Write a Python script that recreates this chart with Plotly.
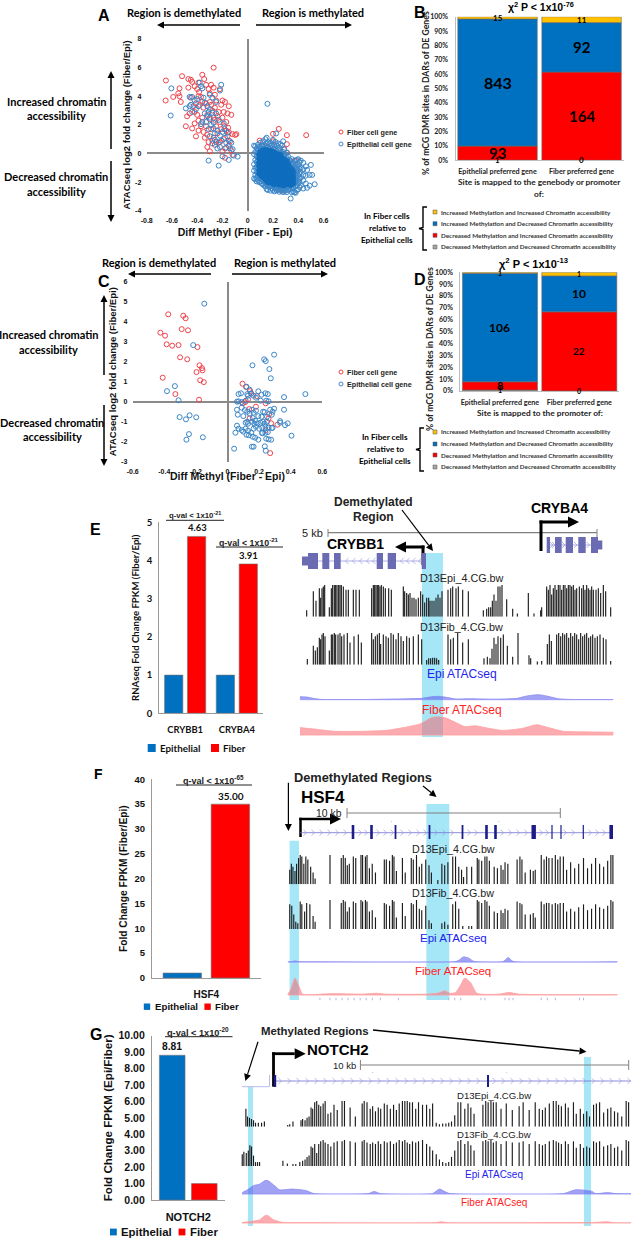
import plotly.graph_objects as go

W, H = 631, 1239
BLUE, RED, YEL, GRY = "#0070C0", "#FF0000", "#FFC000", "#A5A5A5"
SANS, CAL = "Liberation Sans", "Lato"

# ---------- panel A ----------
a_fiber = [(-.648,5.1),(-.52,5.4),(-.27,6.0),(-.36,5.5),(-.345,5.2),(-.47,5.2),(-.45,5.15),(-.44,5.0),(-.39,4.95),(-.54,4.55),(-.55,4.2),(-.59,3.95),(-.54,4.0),(-.53,3.6),(-.65,3.7),(-.49,1.9),(-.44,1.75),(-.41,1.2),(-.47,4.6),(-.42,4.7),(-.40,4.5),(-.385,4.3),(-.39,4.0),(-.37,3.95),(-.33,4.8),(-.29,4.8),(-.31,4.5),(-.27,4.6),(-.22,4.5),(-.30,4.2),(-.26,4.1),(-.36,3.6),(-.41,3.5),(-.38,3.4),(-.43,3.3),(-.45,3.9),(-.46,2.8),(-.48,2.6),(-.42,2.9),(-.40,2.7),(-.35,3.2),(-.33,3.5),(-.30,3.6),(-.25,3.7),(-.20,3.7),(-.18,3.6),(-.21,3.4),(-.26,3.2),(-.15,3.3),(-.28,3.0),(-.32,2.7),(-.36,2.5),(-.39,2.3),(-.42,2.1),(-.37,1.9),(-.35,1.5),(-.39,1.6),(-.30,2.4),(-.27,2.5),(-.24,2.6),(-.19,2.9),(-.16,2.8),(-.17,2.2),(-.13,2.7),(-.22,2.2),(-.25,1.9),(-.29,1.7),(-.32,1.3),(-.34,1.1),(-.31,.8),(-.30,.15),(-.32,.45),(-.27,1.1),(-.24,1.4),(-.21,1.7),(-.185,1.9),(-.17,1.6),(-.155,1.8),(-.12,1.35),(-.10,1.3),(-.09,1.35),(-.16,1.2),(-.19,1.0),(-.23,.75),(-.26,.6),(-.14,.85),(-.18,.35),(-.13,.2),(-.15,.55),(-.20,.15),(-.18,-.3),(-.12,-.1),(-.22,.8),(-.28,.9),(-.33,1.9),(-.23,2.9),(-.20,2.5),(-.26,2.35),(-.15,1.5),(-.29,3.4),
           (.246,1.72),(.31,1.28),(.463,1.28),(.2,1.37),(.095,.9),(.2,.85),(.31,.65),(.285,.3),(.15,.5),(.31,.05),(.2,.3),(.39,-1.16),(.245,-2.5),(.27,-2.6),(.38,-.5)]
a_epi_left = [(-.605,4.55),(-.61,2.65),(-.44,3.95),(-.46,3.95),(-.49,3.15),(-.46,3.3),(-.45,3.4),(-.42,3.7),(-.40,3.8),(-.44,2.9),(-.41,3.1),(-.38,4.95),(-.37,4.7),(-.36,4.55),(-.21,4.8),(-.22,4.4),(-.30,4.1),(-.28,3.9),(-.32,3.3),(-.30,3.1),(-.31,2.9),(-.34,2.8),(-.32,2.6),(-.30,2.5),(-.36,2.2),(-.37,2.05),(-.33,2.2),(-.29,2.0),(-.31,1.7),(-.27,1.75),(-.26,1.4),(-.24,1.6),(-.22,1.25),(-.20,1.5),(-.185,1.7),(-.16,1.45),(-.18,1.1),(-.15,.9),(-.17,.75),(-.21,.9),(-.25,.8),(-.28,.7),(-.24,.35),(-.22,.45),(-.17,.4),(-.14,.35),(-.12,.3),(-.20,-.2),(-.23,-.85),(-.31,-.5),(-.15,-.45),(-.11,-.15),(-.08,-.22),(-.25,2.8),(-.23,2.35),(-.19,2.1),(-.27,2.15),(-.34,3.55),(-.25,3.6),(-.39,3.3),(-.28,2.85),(-.13,.75),(-.35,3.9),(-.30,1.2),(-.26,.95),
              (.156,3.47),(.225,1.4),(.15,1.1),(.28,.85)]
a_epi_blob = {
 .05:[.55,-.05,-.75,-1.75,-1.2], .06:[.5,.1,-.45,-1.0,-1.5,-1.8], .07:[.35,-.2,-.6,-.95,-1.3,-1.7,-1.95],
 .08:[.6,.25,.02,-.3,-.55,-.8,-1.05,-1.35,-1.6,-1.85], .09:[.45,.2,-.1,-.35,-.62,-.9,-1.15,-1.42,-1.7,-2.0],
 .10:[.75,.4,.12,-.08,-.28,-.5,-.72,-.95,-1.2,-1.45,-1.68,-1.95], .11:[.55,.3,.05,-.18,-.42,-.65,-.88,-1.1,-1.33,-1.57,-1.82,-2.1],
 .12:[.85,.5,.22,0,-.22,-.45,-.68,-.9,-1.15,-1.38,-1.62,-1.85,-2.15], .13:[.6,.35,.12,-.1,-.32,-.55,-.78,-1.0,-1.22,-1.45,-1.7,-1.95,-2.25],
 .14:[1.0,.5,.25,.02,-.2,-.42,-.65,-.88,-1.1,-1.32,-1.55,-1.8,-2.05,-2.3], .15:[.7,.38,.15,-.08,-.3,-.52,-.75,-.98,-1.2,-1.42,-1.65,-1.9,-2.15,-2.5],
 .16:[.8,.45,.2,-.02,-.24,-.46,-.68,-.9,-1.12,-1.35,-1.58,-1.8,-2.02,-2.28,-2.55], .17:[.65,.32,.1,-.12,-.34,-.56,-.78,-1.0,-1.22,-1.44,-1.66,-1.88,-2.1,-2.35],
 .18:[.75,.4,.18,-.05,-.27,-.49,-.71,-.93,-1.15,-1.37,-1.59,-1.81,-2.03,-2.27,-2.6], .19:[.55,.25,.02,-.2,-.42,-.64,-.86,-1.08,-1.3,-1.52,-1.74,-1.96,-2.18,-2.42],
 .20:[.95,.42,.12,-.1,-.32,-.54,-.76,-.98,-1.2,-1.42,-1.64,-1.86,-2.08,-2.3,-2.55], .21:[.6,.28,.05,-.18,-.4,-.62,-.84,-1.06,-1.28,-1.5,-1.72,-1.94,-2.16,-2.38,-2.65],
 .22:[.8,.35,0,-.25,-.47,-.69,-.91,-1.13,-1.35,-1.57,-1.79,-2.01,-2.23,-2.45], .23:[.55,.15,-.12,-.34,-.56,-.78,-1.0,-1.22,-1.44,-1.66,-1.88,-2.1,-2.32,-2.58],
 .24:[.7,.25,-.05,-.28,-.5,-.72,-.94,-1.16,-1.38,-1.6,-1.82,-2.04,-2.26,-2.5], .25:[.4,.05,-.2,-.42,-.64,-.86,-1.08,-1.3,-1.52,-1.74,-1.96,-2.18,-2.4,-2.68],
 .26:[.65,.2,-.1,-.35,-.58,-.8,-1.02,-1.24,-1.46,-1.68,-1.9,-2.12,-2.34,-2.6], .27:[.55,-.02,-.3,-.52,-.74,-.96,-1.18,-1.4,-1.62,-1.84,-2.06,-2.28,-2.5],
 .28:[.1,-.25,-.48,-.7,-.92,-1.14,-1.36,-1.58,-1.8,-2.02,-2.24,-2.46,-2.7], .29:[.3,-.15,-.42,-.65,-.88,-1.1,-1.32,-1.54,-1.76,-1.98,-2.2,-2.42,-2.62],
 .30:[-.05,-.38,-.6,-.84,-1.06,-1.28,-1.5,-1.72,-1.94,-2.16,-2.38,-2.6], .31:[.05,-.3,-.55,-.8,-1.02,-1.24,-1.46,-1.68,-1.9,-2.12,-2.34,-2.7],
 .32:[-.2,-.5,-.75,-.98,-1.22,-1.44,-1.66,-1.88,-2.1,-2.32,-2.55], .33:[-.45,-.72,-.96,-1.2,-1.42,-1.64,-1.86,-2.08,-2.3,-2.52],
 .34:[-.55,-.95,-1.2,-1.45,-1.7,-1.95,-2.2,-2.45,-3.15], .35:[-.4,-.8,-1.1,-1.38,-1.62,-1.9,-2.15,-2.4,-2.72],
 .36:[-.65,-1.0,-1.3,-1.6,-1.85,-2.1,-2.35,-2.65], .37:[-.5,-.9,-1.25,-1.55,-1.82,-2.08,-2.72], .38:[-.75,-1.05,-1.4,-1.7,-1.95,-2.3,-2.75],
 .39:[-.45,-.95,-1.3,-1.6,-1.9,-2.2,-2.55], .40:[-.4,-.85,-1.2,-1.55,-1.85,-2.1,-2.5], .41:[-.6,-1.05,-1.4,-1.75,-2.0,-2.35],
 .42:[-.5,-1.0,-1.3,-1.7,-2.25], .44:[-.65,-1.1,-1.5,-1.9,-2.45], .46:[-.9,-1.55,-2.1], .47:[-1.15,-2.4], .49:[-1.5,-2.25], .50:[-.8], .51:[-1.5], .53:[-2.15]}
# ---------- panel C ----------
c_fiber = [(-.375,4.37),(-.28,4.3),(-.265,4.17),(-.29,3.63),(-.25,3.57),(-.425,3.45),(-.395,3.3),(-.385,2.87),(-.35,2.8),(-.31,2.83),(-.19,2.73),(-.3,2.22),(-.255,2.12),(-.177,1.82),(-.162,1.68),(-.158,1.57),(-.196,1.48),(-.41,1.2),(-.173,1.07),(-.15,.98),(-.33,.38),(-.18,.1),
           (.095,.9),(.118,.73),(.143,.53),(.15,.42),(.186,.28),(.13,.12),(.112,-.02),(.097,-.08),(.242,-.08),(.18,-.25),(.137,-.37),(.263,-.62),(.26,-.83),(.276,-1.08),(.316,-1.15),(.242,-1.42),(.27,-2.57),(.14,-.83)]
c_epi = [(-.147,4.9),(-.217,2.83),(-.333,.78),(-.383,.53),(-.31,.07),(-.303,-.77),(-.24,-.68),(-.263,-.88),(-.198,-.78),(-.244,-1.62),(-.26,-1.9),(-.156,-1.78),
         (.295,2.35),(.232,2.12),(.242,2.03),(.158,1.82),(.265,1.63),(.274,1.17),(.493,.38),(.358,.23),(.358,-.4),(.333,-.97),(.333,-1.05),(.381,-1.08),(.364,-1.17),(.405,-1.7),(.042,-2.35),(.154,-2.25),(.165,-2.25),(.236,-2.23),(.242,-2.45),(.245,-1.85),(.26,-1.88),(.276,-1.9),
         (.12,.75),(.14,.6),(.07,.38),(.085,.42),(.125,.38),(.15,.4),(.165,.3),(.195,.52),(.215,.35),(.24,.42),(.255,.38),(.13,.3),(.18,.2),(.21,.05),(.245,.05),(.26,.02),(.06,0),(.07,.02),(.115,.05),(.09,-.02),(.06,-.4),(.065,-.65),(.09,-.3),(.11,-.42),(.125,-.5),(.14,-.6),(.155,-.4),(.165,-.55),(.18,-.45),(.195,-.72),(.225,-.5),(.235,-.52),(.25,-.75),(.27,-.4),(.285,-.5),(.295,-.35),(.1,-.72),(.16,-.82),(.175,-.95),(.215,-.75),(.28,-.65),(.115,-1.05),(.125,-1.0),(.13,-1.1),(.155,-1.0),(.17,-1.1),(.19,-1.08),(.21,-1.05),(.225,-1.0),(.235,-1.1),(.25,-1.0),(.06,-1.2),(.07,-1.35),(.09,-1.42),(.1,-1.5),(.115,-1.35),(.13,-1.45),(.15,-1.55),(.165,-1.35),(.18,-1.25),(.2,-1.35),(.22,-1.3),(.24,-1.25),(.26,-1.3),(.285,-1.3),(.05,-1.55),(.12,-1.65),(.135,-1.68),(.16,-1.75),(.175,-1.8),(.195,-1.9),(.22,-1.58),(.24,-1.55),(.255,-1.52),(.22,-1.55),(.28,-1.32)]
# ---------- stacked bars B and D (4 classes, bottom to top) ----------
stack_classes = ["Decreased Methylation and Decreased Chromatin accessibility","Decreased Methylation and Increased Chromatin accessibility","Increased Methylation and Decreased Chromatin accessibility","Increased Methylation and Increased Chromatin accessibility"]
stack_colors = [GRY, RED, BLUE, YEL]
pref_genes = ["Epithelial preferred gene", "Fiber preferred gene"]
b_counts = [[1, 0], [93, 164], [843, 92], [15, 11]]
d_counts = [[1, 0], [8, 22], [106, 10], [1, 1]]
pct_ticks = list(range(0, 101, 10))
# ---------- group bars ----------
e_genes = ["CRYBB1", "CRYBA4"]; e_epi = [1, 1]; e_fib = [4.63, 3.91]
f_genes = ["HSF4"]; f_epi = [1]; f_fib = [35.00]
g_genes = ["NOTCH2"]; g_epi = [8.81]; g_fib = [1]
# ---------- methylation tracks: (position, fraction) ----------
e_me_epi = [(50,.2),(70,.8),(78,.5),(88,.9),(92,.6),(96,.9),(100,.95),(104,1),(118,.3),(124,.9),(128,1),(133,1),(137,1),(141,1),(146,1),(150,1),(154,1),(160,.95),(168,.85),(175,.85),(190,.85),(198,.85),(208,.85),(245,.9),(250,1),(254,1),(258,1),(262,1),(266,1),(270,.95),(274,1),(280,.95),(286,.9),(296,.9),(304,.85),(340,.95),(344,.8),(350,.75),(355,.7),(360,.75),(366,.6),(372,.6),(378,.55),(385,.6),(392,.8),(398,.7),(404,.45),(410,.6),(416,.6),(420,.5),(426,.5),(432,.5),(438,.6),(444,.7),(450,.6),(456,.8),(474,.85),(482,.9),(488,.95),(498,.9),(505,.95),(518,.85),(535,.8),(580,.2),(590,.25),(596,.3),(602,.3),(607,.5),(612,.7),(618,.5),(624,.95),(630,.95),(636,1),(650,.55),(668,.25),(682,.1),(715,.75),(732,.1),(752,.2),(755,.3),(770,.95),(775,.85),(780,1),(785,.7),(790,.9),(795,1),(800,.85),(805,1),(810,1),(815,.85),(820,1),(825,1),(830,.9),(835,1),(840,1),(845,.95),(850,1),(855,.85),(860,.9),(868,.95),(875,.9),(880,1),(885,.85),(890,1),(895,.9),(900,.85),(905,.95),(910,.85),(918,.85),(925,.9),(932,.75),(940,1),(947,.8),(962,.3)]
e_me_fib = [(52,.18),(70,.6),(76,.45),(82,.55),(88,.85),(92,.8),(96,.95),(100,1),(105,.9),(118,.45),(124,.95),(128,.95),(133,1),(137,.95),(144,.95),(150,1),(155,.9),(162,.95),(172,1),(180,.7),(192,.9),(205,.95),(214,.7),(245,1),(250,.8),(256,.9),(262,.95),(268,1),(272,.65),(280,.95),(288,.9),(295,.85),(303,1),(310,.95),(318,.8),(325,1),(333,.9),(340,.75),(350,.9),(358,.85),(370,.9),(385,.95),(395,.8),(410,.15),(416,.2),(422,.2),(428,.22),(434,.22),(440,.2),(446,.15),(474,.95),(482,.8),(490,.85),(503,1),(518,.7),(535,.8),(582,.2),(592,.25),(600,.2),(606,.5),(612,.85),(618,.65),(624,.9),(632,.85),(640,.95),(652,.6),(668,.25),(684,1),(717,.3),(722,.2),(742,.1),(755,.12),(772,.65),(778,.95),(784,.75),(800,.95),(806,1),(812,.9),(818,1),(824,.95),(830,1),(836,.85),(842,1),(848,.9),(854,1),(860,.95),(866,.8),(872,1),(878,.9),(884,.95),(890,1),(896,.85),(902,.9),(908,.95),(915,.85),(922,.9),(930,.95),(940,.85),(948,.8),(962,.12)]
f_me_epi = [(720,.5),(724,.7),(728,.6),(733,.45),(737,.7),(742,.9),(746,1),(750,.95),(755,.7),(760,.95),(765,.85),(772,.6),(778,.4),(783,.2),(820,1),(848,.9),(853,1),(858,.9),(863,.65),(868,.7),(878,.95),(884,.9),(897,1),(901,1),(908,.95),(912,1),(918,.55),(925,.7),(933,.4),(955,.85),(960,.85),(968,.8),(975,1),(979,.95),(985,.45),(1000,.9),(1007,.4),(1022,.9),(1027,.85),(1035,1),(1042,.6),(1048,.7),(1058,.85),(1066,.65),(1072,.4),(1088,.15),(1098,.7),(1105,.65),(1113,.75),(1125,.95),(1132,.95),(1140,.6),(1147,.5),(1152,.25),(1160,.6),(1172,.6),(1186,.9),(1190,.85),(1197,.8),(1205,.95),(1210,.95),(1216,.8),(1228,.6),(1236,.55),(1245,.65),(1250,.5),(1255,.75),(1262,.7),(1285,.85),(1292,.95),(1297,.85),(1305,.4),(1318,.5),(1325,.45),(1330,.5),(1345,1),(1352,.85),(1358,.95),(1364,.9),(1372,.9),(1380,1),(1386,.85),(1392,.95),(1400,.95),(1408,.5),(1418,.75),(1428,.55),(1438,.7),(1450,.9),(1460,.55),(1470,.7),(1480,.9),(1490,.7),(1500,.6),(1510,.8),(1518,1),(1523,1)]
f_me_fib = [(720,.85),(725,.8),(730,.5),(735,.25),(740,.2),(746,.95),(750,.85),(757,.6),(762,.9),(770,.85),(778,.45),(783,.25),(820,1),(848,.9),(853,1),(858,.95),(863,.6),(868,.75),(878,.95),(884,.9),(897,1),(901,.95),(908,1),(912,.95),(918,.6),(925,.65),(933,.4),(955,.9),(960,.85),(968,.8),(975,1),(979,.95),(985,.4),(1000,.9),(1007,.45),(1022,.9),(1027,.85),(1035,1),(1042,.7),(1048,.65),(1058,.8),(1066,.3),(1072,.2),(1098,.2),(1105,.25),(1113,.15),(1125,.85),(1132,.95),(1140,.7),(1150,.1),(1165,.1),(1172,.1),(1186,1),(1190,.95),(1197,.9),(1205,1),(1210,.95),(1216,.8),(1228,.6),(1236,.55),(1245,.65),(1250,.55),(1255,.7),(1262,.65),(1285,.95),(1292,.9),(1297,.85),(1305,.5),(1318,.5),(1325,.55),(1330,.4),(1345,.95),(1352,.85),(1358,.9),(1364,.9),(1372,.85),(1380,.9),(1386,.85),(1392,.9),(1400,.9),(1408,.6),(1418,.7),(1428,.6),(1438,.75),(1450,.85),(1460,.65),(1470,.7),(1480,.85),(1490,.75),(1500,.7),(1510,.8),(1518,1),(1523,.95)]
g_me_epi = [(611,.7),(615,.4),(620,.35),(625,.3),(630,.25),(635,.15),(642,.15),(650,.15),(657,.2),(715,.07),(720,.1),(728,.2),(748,.25),(752,.3),(758,.25),(763,.35),(768,.4),(773,.75),(777,.7),(782,.95),(787,1),(792,.85),(797,.8),(803,.9),(808,1),(815,.5),(822,.55),(830,.85),(838,.65),(850,1),(856,1),(870,.75),(883,.4),(900,.9),(905,1),(912,.95),(920,.7),(926,.8),(933,.6),(940,.75),(946,.7),(955,.9),(962,.85),(970,.7),(978,.85),(985,.65),(992,.9),(1000,1),(1006,1),(1012,1),(1018,.95),(1025,.95),(1033,.7),(1040,.95),(1050,.85),(1060,.85),(1068,.7),(1075,.9),(1084,.15),(1092,.1),(1100,.12),(1108,.12),(1115,.15),(1122,.2),(1130,.45),(1138,.95),(1145,.95),(1155,.7),(1163,.9),(1170,.75),(1178,.5),(1200,.85),(1207,1),(1213,.95),(1220,1),(1226,.95),(1233,.95),(1245,.7),(1258,.9),(1273,.65),(1290,.8),(1300,.95),(1315,.65),(1330,.95),(1340,.7),(1348,.65),(1355,.75),(1365,.9),(1375,1),(1382,1),(1388,.85),(1395,.8),(1405,.9),(1412,.75),(1425,.95),(1432,.5),(1442,.7),(1450,.5),(1458,.6),(1465,.4),(1475,.85),(1482,.9),(1490,.95),(1500,.55),(1510,.7),(1518,.75),(1527,.6),(1535,.55),(1545,.4),(1556,1),(1562,.95)]
g_me_fib = [(602,.45),(606,.55),(612,.5),(617,.6),(621,.8),(625,.75),(630,.4),(635,.15),(640,.15),(645,.15),(703,.2),(714,.1),(728,.08),(735,.08),(745,.15),(752,.2),(758,.25),(763,.35),(768,.4),(773,.75),(777,.7),(782,.85),(787,.5),(792,.85),(797,.95),(803,1),(808,.9),(815,.85),(822,.75),(830,.9),(838,.95),(850,.95),(856,1),(870,.95),(883,.9),(900,.95),(905,1),(912,.9),(920,.85),(926,.9),(933,.85),(940,.95),(946,.85),(955,.95),(962,.9),(970,.95),(978,.85),(985,.9),(992,1),(1000,.95),(1006,1),(1012,.9),(1018,.85),(1025,.95),(1033,.9),(1040,.95),(1050,1),(1060,.85),(1068,.75),(1075,.6),(1084,.45),(1092,.25),(1100,.15),(1108,.12),(1115,.15),(1122,.35),(1130,.6),(1138,.95),(1145,1),(1155,.85),(1163,.95),(1170,.8),(1178,.6),(1200,.95),(1207,1),(1213,.95),(1220,1),(1226,.9),(1233,.95),(1245,.85),(1258,.95),(1273,.9),(1290,.9),(1300,.95),(1315,.85),(1330,.95),(1340,.85),(1348,.8),(1355,.85),(1365,.95),(1375,1),(1382,.95),(1388,.9),(1395,.85),(1405,.95),(1412,.85),(1425,.95),(1432,.7),(1442,.85),(1450,.7),(1458,.75),(1465,.7),(1475,.95),(1482,.9),(1490,.95),(1500,.75),(1510,.8),(1518,.85),(1527,.7),(1535,.75),(1545,.6),(1556,1),(1562,.95)]
f_below = [(795,1),(820,1),(835,1),(850,1),(865,1),(880,1),(895,1),(910,1),(925,1),(945,1),(990,1),(1115,1),(1130,1),(1145,1),(1195,1),(1205,1),(1255,1),(1265,1),(1275,1),(1345,1),(1360,1),(1380,1),(1440,1),(1450,1)]
# ---------- ATAC tracks: (position, relative signal) ----------
e_at_epi = [(30,.45),(50,.4),(70,.2),(90,.05),(120,.02),(210,.02),(310,.1),(360,.15),(395,.2),(425,.45),(445,.5),(470,.35),(495,.12),(535,.15),(570,.12),(620,.08),(680,.2),(710,.55),(745,.75),(770,.55),(805,.15),(845,.03),(970,.02)]
e_at_fib = [(30,.4),(85,.3),(135,.2),(220,.2),(290,.25),(340,.4),(390,.6),(425,.95),(445,1),(470,.9),(500,.65),(525,.45),(555,.5),(585,.4),(635,.25),(695,.35),(740,.55),(775,.4),(820,.2),(880,.17),(970,.15)]
f_at_epi = [(715,.02),(725,.05),(733,.2),(742,.05),(780,.02),(1130,.03),(1142,.4),(1152,1),(1165,.7),(1178,.1),(1250,.05),(1263,.8),(1275,.1),(1535,.02)]
f_at_fib = [(715,.05),(722,.3),(733,1),(745,.4),(752,.05),(820,.08),(840,.08),(900,.05),(935,.1),(960,.05),(1060,.05),(1090,.12),(1105,.25),(1118,.1),(1132,.15),(1145,.6),(1155,1),(1170,.7),(1185,.1),(1240,.05),(1265,.15),(1290,.05),(1535,.02)]
g_at_epi = [(602,.1),(615,.3),(630,.6),(645,.7),(662,1),(680,.65),(695,.3),(725,.35),(760,.25),(780,.03),(915,.03),(930,.18),(945,.03),(1075,.03),(1092,.35),(1115,.05),(1400,.03),(1430,.3),(1470,.2),(1480,.03),(1510,.1),(1530,.03),(1568,.02)]
g_at_fib = [(602,.05),(630,.25),(645,.4),(662,1),(680,.4),(700,.1),(780,.04),(1080,.04),(1095,.15),(1115,.04),(1415,.05),(1470,.05),(1510,.15),(1525,.03),(1568,.02)]


def px(x): return x / W
def py(y): return 1 - y / H
def dx(a, b): return [a / W, b / W]
def dy(top, bot): return [1 - bot / H, 1 - top / H]
def xs(p): return [q[0] for q in p]
def ys(p): return [q[1] for q in p]

fig = go.Figure()
ann, shp = [], []

def T(x, y, s, size=10, color="#000", fam=CAL, bold=True, anchor="center", angle=0):
    ann.append(dict(x=px(x), y=py(y), xref="paper", yref="paper", text=f"<b>{s}</b>" if bold else s,
                    showarrow=False, xanchor=anchor, yanchor="middle", textangle=angle,
                    font=dict(size=size, color=color, family=fam)))

def line(x0, y0, x1, y1, w=1, color="#808080", layer="above"):
    shp.append(dict(type="line", xref="paper", yref="paper", x0=px(x0), x1=px(x1), y0=py(y0), y1=py(y1),
                    line=dict(width=w, color=color), layer=layer))

def rect(x0, y0, x1, y1, color, layer="above", border=None):
    shp.append(dict(type="rect", xref="paper", yref="paper", x0=px(x0), x1=px(x1), y0=py(y0), y1=py(y1),
                    fillcolor=color, line=dict(width=0.5 if border else 0, color=border or color), layer=layer))

def path(d, color, w=1, layer="above"):
    shp.append(dict(type="path", xref="paper", yref="paper", path=d, line=dict(width=w, color=color), layer=layer))

def M(pts):
    return "M" + "L".join(f"{px(a):.5f},{py(b):.5f}" for a, b in pts)

def arrow(x0, y0, x1, y1, w=1.5, head=7.0, color="#000"):
    L = ((x1 - x0) ** 2 + (y1 - y0) ** 2) ** .5
    ux, uy = (x1 - x0) / L, (y1 - y0) / L
    bx, by = x1 - ux * head, y1 - uy * head
    hw = head * 0.5
    line(x0, y0, bx, by, w, color)
    shp.append(dict(type="path", xref="paper", yref="paper", line=dict(width=0), fillcolor=color,
                    path=M([(x1, y1), (bx - uy * hw, by + ux * hw), (bx + uy * hw, by - ux * hw)]) + "Z"))

def bent(x0, y0, yb, x1, w=3):
    d = 1 if x1 > x0 else -1
    line(x0, y0, x0, yb - w / 2, w, "#000")
    arrow(x0 - d * w / 2, yb, x1, yb, w=w, head=11, color="#000")

def chevrons(positions, y, direction, color="#9a9ae0", h=3):
    for p in positions:
        path(M([(p - direction * 1.5, y - h), (p + direction * 1.5, y), (p - direction * 1.5, y + h)]), color, 0.7)

# ---- scatter panels -------------------------------------------------------
def scatter(p, name, color, xa, ya, size=5, w=1):
    fig.add_trace(go.Scatter(x=xs(p), y=ys(p), mode="markers", name=name, xaxis=xa, yaxis=ya, showlegend=False,
                             marker=dict(symbol="circle-open", size=size, color=color, line=dict(width=w))))

a_blob = [(x, y) for x, col in a_epi_blob.items() for y in col]
a_core = [(x, y) for x, col in a_epi_blob.items() if .09 <= x <= .36 for y in col[2:-2]]
scatter(a_fiber, "Fiber cell gene", "#F0444C", "x", "y")
scatter(a_epi_left + a_blob, "Epithelial cell gene", "#3A86C8", "x", "y")
scatter(a_core, "Epithelial cell gene", "#0F6DBE", "x", "y", size=4, w=1.6)
scatter(c_fiber, "Fiber cell gene", "#F0444C", "x3", "y3")
scatter(c_epi, "Epithelial cell gene", "#3A86C8", "x3", "y3")

def stack(counts, xa, ya, sizes):
    tot = [sum(c[i] for c in counts) for i in range(2)]
    base = [0, 0]
    for k, c in enumerate(counts):
        v = [100 * c[i] / tot[i] for i in range(2)]
        fig.add_trace(go.Bar(x=pref_genes, y=v, base=base, name=stack_classes[k], xaxis=xa, yaxis=ya, showlegend=False,
                             width=0.945, offset=-0.4725, marker=dict(color=stack_colors[k], line=dict(width=0.6, color="#6a6a6a"))))
        for i in range(2):
            ann.append(dict(x=pref_genes[i], y=base[i] + v[i] / 2, xref=xa, yref=ya, text=f"<b>{c[i]}</b>", showarrow=False,
                            font=dict(family=CAL, size=sizes[k][i], color="#000")))
        base = [base[i] + v[i] for i in range(2)]

stack(b_counts, "x2", "y2", [[8, 8], [15, 15], [16, 15], [8, 8]])
stack(d_counts, "x4", "y4", [[7, 7], [11, 10], [12, 12], [7, 7]])

def group(genes, epi, fib, xa, ya):
    fig.add_trace(go.Bar(x=genes, y=epi, name="Epithelial", xaxis=xa, yaxis=ya, showlegend=False, marker=dict(color=BLUE, line=dict(width=.6, color="#777"))))
    fig.add_trace(go.Bar(x=genes, y=fib, name="Fiber", xaxis=xa, yaxis=ya, showlegend=False, marker=dict(color=RED, line=dict(width=.6, color="#777"))))

group(e_genes, e_epi, e_fib, "x5", "y5")
group(f_genes, f_epi, f_fib, "x6", "y6")
group(g_genes, g_epi, g_fib, "x7", "y7")

def meth(p, xa, ya, name, w=1.15, color="#1c1c1c"):
    x, y = [], []
    for a, b in p:
        x += [a, a, None]; y += [0, b, None]
    fig.add_trace(go.Scatter(x=x, y=y, name=name, xaxis=xa, yaxis=ya, mode="lines", showlegend=False,
                             connectgaps=False, line=dict(width=w, color=color)))

def atac(p, xa, ya, name, lc, fc):
    fig.add_trace(go.Scatter(x=xs(p), y=ys(p), name=name, xaxis=xa, yaxis=ya, mode="lines", fill="tozeroy", showlegend=False,
                             fillcolor=fc, line=dict(width=0.8, color=lc, shape="spline", smoothing=0.6)))

BL, BF, RL, RF = "#8a8af0", "rgba(70,70,235,.5)", "#ffa0a0", "rgba(250,90,100,.5)"
meth(e_me_epi, "x8", "y8", "D13Epi_4.CG.bw"); meth(e_me_fib, "x8", "y9", "D13Fib_4.CG.bw")
atac(e_at_epi, "x8", "y10", "Epi ATACseq", BL, BF); atac(e_at_fib, "x8", "y11", "Fiber ATACseq", RL, RF)
meth(f_me_epi, "x9", "y12", "D13Epi_4.CG.bw"); meth(f_me_fib, "x9", "y13", "D13Fib_4.CG.bw")
atac(f_at_epi, "x9", "y14", "Epi ATACseq", BL, BF); atac(f_at_fib, "x9", "y15", "Fiber ATACseq", RL, RF)
meth(f_below, "x9", "y20", "Gene annotation", 1, "#b5b5e8")
meth(g_me_epi, "x9", "y16", "D13Epi_4.CG.bw"); meth(g_me_fib, "x9", "y17", "D13Fib_4.CG.bw")
atac(g_at_epi, "x9", "y18", "Epi ATACseq", BL, BF); atac(g_at_fib, "x9", "y19", "Fiber ATACseq", RL, RF)

# ---- axes -----------------------------------------------------------------
TF = dict(family=SANS, size=7, color="#111", weight="bold")
def quad_axes(n, xd, yd, xr, yr, xt, yt, xtitle, ytitle, xst, yst):
    s = "" if n == 1 else str(n)
    fmt = lambda v: [str(a) for a in v]
    xa = dict(domain=xd, range=xr, tickmode="array", tickvals=xt, ticktext=fmt(xt), showgrid=False, zeroline=True, zerolinecolor="#8a8a8a", zerolinewidth=1.6,
              showline=False, ticks="outside", ticklen=3, tickcolor="rgba(0,0,0,0)", tickfont=TF, anchor="y" + s)
    if xtitle:
        xa["title"] = dict(text=f"<b>{xtitle}</b>", font=dict(family=SANS, size=10.5, color="#111"), standoff=xst)
    ya = dict(domain=yd, range=yr, tickmode="array", tickvals=yt, ticktext=fmt(yt), showgrid=False, zeroline=True, zerolinecolor="#8a8a8a", zerolinewidth=1.6,
              showline=False, ticks="outside", ticklen=3, tickcolor="rgba(0,0,0,0)", tickfont=TF, anchor="x" + s,
              title=dict(text=f"<b>{ytitle}</b>", font=dict(family=SANS, size=9.5, color="#111"), standoff=yst))
    return {"xaxis" + s: xa, "yaxis" + s: ya}

layout = {}
layout.update(quad_axes(1, dx(146.7, 323.5), dy(39, 210.7), [-.8, .6], [-4, 8], [-.8, -.6, -.4, -.2, 0, .2, .4, .6], [-4, -2, 0, 2, 4, 6, 8],
                        "Diff Methyl (Fiber - Epi)", "ATACseq log2 fold change (Fiber/Epi)", 5, 2))
layout.update(quad_axes(3, dx(132.7, 322.3), dy(281.7, 461.7), [-.6, .6], [-3, 6], [-.6, -.4, -.2, 0, .2, .4, .6], [-3, -2, -1, 0, 1, 2, 3, 4, 5, 6],
                        None, "ATACseq log2 fold change (Fiber/Epi)", 1, 2))
T(227, 476, "Diff Methyl (Fiber - Epi)", 10.5, fam=SANS, color="#111")

def pct_axes(n, xd, yd):
    s = str(n)
    return {"xaxis" + s: dict(domain=xd, range=[-.5, 1.5], type="category", categoryorder="array", categoryarray=pref_genes, showgrid=False, zeroline=False, showline=True, linecolor="#bdbdbd",
                              ticks="outside", ticklen=4, tickcolor="rgba(0,0,0,0)", tickfont=dict(family=CAL, size=7.2, color="#222", weight="bold"), anchor="y" + s),
            "yaxis" + s: dict(domain=yd, range=[0, 100], tickmode="array", tickvals=pct_ticks, ticktext=[f"{v}%" for v in pct_ticks], showgrid=False, zeroline=False, showline=True, linecolor="#bdbdbd",
                              ticks="outside", ticklen=5, tickcolor="rgba(0,0,0,0)", tickfont=dict(family=CAL, size=7, color="#222", weight="bold"), anchor="x" + s)}

layout.update(pct_axes(2, dx(455.5, 623.6), dy(16.7, 160.3)))
layout.update(pct_axes(4, dx(460.3, 619), dy(272.3, 391)))
T(425, 93, "% of mCG DMR sites in DARs of DE Genes", 8.7, color="#222", angle=-90)
T(429, 349, "% of mCG DMR sites in DARs of DE Genes", 8.7, color="#222", angle=-90)

def bar_axes(n, xd, yd, yr, yt, labels, ttl, fam, tfs, ttfs, cfs, tst, cat):
    s = str(n)
    return {"xaxis" + s: dict(domain=xd, type="category", categoryorder="array", categoryarray=cat, showgrid=False, zeroline=False, showline=True, linecolor="#9a9a9a", linewidth=1.2,
                              ticks="outside", ticklen=7, tickcolor="rgba(0,0,0,0)", tickfont=dict(family=fam, size=cfs, color="#111", weight="bold"), anchor="y" + s),
            "yaxis" + s: dict(domain=yd, range=yr, tickmode="array", tickvals=yt, ticktext=labels, showgrid=False, zeroline=False, showline=True, linecolor="#9a9a9a", linewidth=1.2,
                              ticks="outside", ticklen=4, tickcolor="rgba(0,0,0,0)", tickfont=dict(family=fam, size=tfs, color="#111", weight="bold"), anchor="x" + s,
                              title=dict(text=f"<b>{ttl}</b>", font=dict(family=fam, size=ttfs, color="#111"), standoff=tst))}

e_t = [0, 1, 2, 3, 4, 5]
f_t = [0, 5, 10, 15, 20, 25, 30, 35, 40]
g_t = [0, 1, 2, 3, 4, 5, 6, 7, 8, 9, 10]
layout.update(bar_axes(5, dx(159.3, 262.7), dy(522.3, 713.3), [0, 5], e_t, [str(v) for v in e_t], "RNAseq Fold Change FPKM (Fiber/Epi)", CAL, 9.5, 9.6, 9.4, 5, e_genes))
layout.update(bar_axes(6, dx(152, 260.7), dy(779.3, 978), [0, 40], f_t, [str(v) for v in f_t], "Fold Change FPKM (Fiber/Epi)", SANS, 9.5, 10.2, 10, 4, f_genes))
layout.update(bar_axes(7, dx(152, 224.5), dy(1035.7, 1200), [0, 10], g_t, [f"{v:.2f}" for v in g_t], "Fold Change FPKM (Epi/Fiber)", SANS, 10.5, 11.6, 11, 3, g_genes))

# hidden track axes
def hid(**k): return dict(visible=False, showgrid=False, zeroline=False, showticklabels=False, **k)
layout["xaxis8"] = hid(domain=dx(290, 631), range=[0, 1023], anchor="y8")
layout["xaxis9"] = hid(domain=[0, 1], range=[0, 1568], anchor="y12")
tracks = {8: (585, 616.7), 9: (633, 664.7), 10: (693, 699.7), 11: (716.5, 735),
          12: (855, 884.3), 13: (900, 929), 14: (956.5, 962), 15: (978, 995),
          16: (1101, 1126.7), 17: (1140, 1166), 18: (1180, 1194), 19: (1215, 1223), 20: (997.5, 1000.5)}
for k, (t, b) in tracks.items():
    layout[f"yaxis{k}"] = hid(domain=dy(t, b), range=[0, 1], anchor="x8" if k < 12 else "x9")

# ---- decorations: A ---------------------------------------------------------
T(104, 15, "A", 16, fam=SANS)
T(184, 13, "Region is demethylated", 11); T(313, 13, "Region is methylated", 11)
arrow(240, 25, 157, 25); arrow(256, 25, 352, 25)
arrow(111, 149, 111, 71); arrow(111, 161, 111, 222)
T(56, 102, "Increased chromatin", 11); T(56, 116, "accessibility", 11)
T(56, 177, "Decreased chromatin", 11); T(56, 191, "accessibility", 11)

def scatter_key(y1, y2):
    shp.append(dict(type="circle", xref="paper", yref="paper", x0=px(339), x1=px(343), y0=py(y1 + 2), y1=py(y1 - 2), line=dict(color="#F0444C", width=1)))
    shp.append(dict(type="circle", xref="paper", yref="paper", x0=px(339), x1=px(343), y0=py(y2 + 2), y1=py(y2 - 2), line=dict(color="#3A86C8", width=1)))
    T(345, y1, "Fiber cell gene", 7.2, fam=SANS, anchor="left", color="#222"); T(345, y2, "Epithelial cell gene", 7.2, fam=SANS, anchor="left", color="#222")
scatter_key(132, 144)

# ---- B / D -----------------------------------------------------------------
T(420, 13, "B", 16, fam=SANS)
T(541, 7, "χ<sup>2</sup> P &lt; 1x10<sup>-76</sup>", 10.5, fam=SANS)
T(539, 182, "Site is mapped to the genebody or promoter", 8.3, color="#222"); T(539, 194, "of:", 8.3, color="#222")

def key(ys4):
    for cls, col, yy in zip(stack_classes[::-1], stack_colors[::-1], ys4):
        rect(433, yy - 2, 437, yy + 2, col, border="#555")
        T(438.5, yy, cls, 6.3, anchor="left", color="#333")
key([212, 223.7, 235.3, 247])
def bracket(x, t, b):
    path(M([(x + 4, t), (x, t), (x, (t + b) / 2 - 1), (x - 4, (t + b) / 2), (x, (t + b) / 2 + 1), (x, b), (x + 4, b)]), "#000", 1.4)
bracket(423, 207, 250)
T(387, 216, "In Fiber cells", 8.2); T(387, 228, "relative to", 8.2); T(387, 240, "Epithelial cells", 8.2)

T(420, 279, "D", 16, fam=SANS)
T(533, 263, "χ<sup>2</sup> P &lt; 1x10<sup>-13</sup>", 11, fam=SANS)
T(540, 413, "Site is mapped to the promoter of:", 8.3, color="#222")
key([432, 444, 455, 467])
bracket(420, 428, 471)
T(385, 437, "In Fiber cells", 8.2); T(385, 449, "relative to", 8.2); T(385, 461, "Epithelial cells", 8.2)

# ---- C -----------------------------------------------------------------------
T(104, 282, "C", 16, fam=SANS)
T(159, 262, "Region is demethylated", 11); T(285, 262, "Region is methylated", 11)
arrow(211, 274, 128, 274); arrow(232, 274, 328, 274)
arrow(104, 375, 104, 295); arrow(104, 405, 104, 466)
T(48, 335, "Increased chromatin", 11); T(48, 349.5, "accessibility", 11)
T(52, 422, "Decreased chromatin", 11); T(52, 436, "accessibility", 11)
scatter_key(372, 384)

# ---- E ------------------------------------------------------------------------
def bar_key(sw1, tx1, sw2, tx2, y, size, fam, s=4):
    rect(sw1 - s, y - s, sw1 + s, y + s, BLUE); T(tx1, y, "Epithelial", size, fam=fam, anchor="left", color="#111")
    rect(sw2 - s, y - s, sw2 + s, y + s, RED); T(tx2, y, "Fiber", size, fam=fam, anchor="left", color="#111")

def qval(cx, y, uy, x0, x1, exp, size=8):
    T(cx, y, f"q-val &lt; 1x10<sup>{exp}</sup>", size, fam=SANS, color="#222"); line(x0, uy, x1, uy, 1, "#222")

T(95, 529, "E", 16, fam=SANS)
qval(195, 515, 520.3, 166, 224, "-21", 7.8); T(197, 527.5, "4.63", 9.5, color="#111")
qval(249, 541.5, 547, 216, 283, "-21", 8.8); T(248, 555, "3.91", 9.5, color="#111")
bar_key(151.7, 158, 215, 221, 748, 9.8, CAL)

rect(422, 553, 443, 737, "#A5E6F7", "below")
line(328, 532.7, 597, 532.7, 1.2); line(328, 529, 328, 537); line(597, 529, 597, 537)
T(325, 533, "5 kb", 11, fam=SANS, anchor="right", bold=False, color="#222")
T(373, 502, "Demethylated", 12, fam=SANS, color="#222"); T(373, 517, "Region", 12, fam=SANS, color="#222")
arrow(402, 510, 433, 551, 1.2)
T(355, 544, "CRYBB1", 14, fam=SANS); bent(423, 565, 547, 395)
T(559, 508, "CRYBA4", 14, fam=SANS); bent(541, 551, 522, 579)
GENE = "#6B6BB3"
line(302, 561, 426, 561, .8, "#9a9ae0")
rect(302, 556.5, 308, 565.5, GENE)
for a, b in [(308, 318), (322.3, 329.3), (334, 340.7), (376.7, 383), (387.7, 396), (421.7, 426)]:
    rect(a, 553, b, 569, GENE)
chevrons([347, 354, 361, 368, 374, 402, 408, 414, 420], 561, -1)
line(547, 545, 602, 545, .8, "#9a9ae0")
for a, b in [(546.7, 550), (555, 561.7), (565.7, 573), (578.3, 585.7), (591, 598)]:
    rect(a, 537, b, 553, GENE)
rect(598, 540.5, 602.3, 549.5, GENE)
chevrons([551.5, 553.5, 563.5, 575.5, 588], 545, 1)
T(462, 578, "D13Epi_4.CG.bw", 10.8, fam=SANS, bold=False, color="#222")
T(462, 627, "D13Fib_4.CG.bw", 10.8, fam=SANS, bold=False, color="#222")
T(462, 674, "Epi ATACseq", 12, fam=SANS, bold=False, color="#2222EE")
T(462, 710, "Fiber ATACseq", 12, fam=SANS, bold=False, color="#FF2222")
line(300, 699.7, 613, 699.7, .8, "#8a8af5"); line(300, 735, 613, 735, .8, "#ff9d9d")

# ---- F ------------------------------------------------------------------------
T(98, 774, "F", 14, fam=SANS)
qval(213, 780, 785, 176, 252, "-65", 9); T(230.5, 795.7, "35.00", 10, color="#111")
bar_key(147, 153, 207.6, 213, 1006.7, 9.7, SANS, 3.2)
rect(289.6, 840.7, 298.9, 1000, "#A5E6F7", "below"); rect(426.4, 804, 449.3, 1000, "#A5E6F7", "below")
T(363, 777, "Demethylated Regions", 12.8, fam=SANS, color="#222")
arrow(423, 786, 436.5, 797, 1.2); arrow(288.4, 782.7, 288.4, 831, 1.2)
T(322.6, 797.7, "HSF4", 17, fam=SANS)
line(347, 813, 560.3, 813, 1.2); line(347, 808, 347, 818); line(560.3, 808, 560.3, 818)
T(344, 813, "10 kb", 10.4, fam=SANS, anchor="right", bold=False, color="#222")
bent(300.5, 837, 819, 341, 2.5)
NAVY = "#1B1B8A"
line(300, 832.7, 613, 832.7, .8, "#6f6fd0")
for a, hw in [(353, 1.3), (371.5, 1.3), (395.5, .9), (429.5, .9), (462.5, .9), (486.5, 1.3), (495.5, 1.3), (552, .6), (561, .6), (583.3, .6), (533.7, 2.2), (611.2, 1.8)]:
    rect(a - hw, 825, a + hw, 839, NAVY)
rect(391, 821, 391.6, 821.6, "#444"); rect(498.5, 821, 499.1, 821.6, "#444")
chevrons([305, 313, 321, 329, 337, 345, 360, 366, 378, 385, 392, 402, 410, 418, 425, 436, 444, 452, 469, 476, 502, 510, 518, 526, 541, 547, 565, 573, 590, 597, 604], 832.7, 1)
T(453, 848.7, "D13Epi_4.CG.bw", 10.7, fam=SANS, bold=False, color="#222")
T(453, 893, "D13Fib_4.CG.bw", 10.7, fam=SANS, bold=False, color="#222")
T(453, 938, "Epi ATACseq", 11.5, fam=SANS, bold=False, color="#2222EE")
T(453, 971, "Fiber ATACseq", 11.5, fam=SANS, bold=False, color="#FF2222")
line(288, 962, 617, 962, 1, "#8a8af5"); line(288, 995, 617, 995, .8, "#ff9d9d")

# ---- G ------------------------------------------------------------------------
T(95.7, 1034, "G", 16, fam=SANS)
qval(198, 1031.7, 1036.7, 165, 232.5, "-20", 9.2); T(172, 1046, "8.81", 10.3, fam=SANS, color="#111")
bar_key(113.4, 119, 182, 188, 1232, 11.4, SANS, 3.4)
rect(248, 1086.7, 253, 1226, "#A5E6F7", "below"); rect(584, 1057, 591, 1226, "#A5E6F7", "below")
T(314.6, 1031, "Methylated Regions", 11.4, fam=SANS, color="#222")
arrow(373, 1030, 586.5, 1051.7, 1.4); arrow(258, 1041.7, 245.4, 1081, 1.2)
T(338, 1049, "NOTCH2", 15, fam=SANS)
bent(273.5, 1086.7, 1053.7, 305.7, 2.8)
line(360.4, 1065, 628.7, 1065, 1.2); line(360.4, 1060, 360.4, 1070); line(628.7, 1060, 628.7, 1070)
T(358, 1065, "10 kb", 9.5, fam=SANS, anchor="right", bold=False, color="#222")
line(275.5, 1081, 631, 1081, .8, "#6f6fd0")
path(M([(242, 1086.7), (269.5, 1086.7), (269.5, 1075)]), "#b9b9ee", 1)
rect(273.8, 1075, 276.2, 1087, NAVY); rect(487, 1075, 489, 1087, NAVY)
rect(372.5, 1072.5, 373.1, 1073.1, "#444"); rect(506.5, 1072.5, 507.1, 1073.1, "#444")
chevrons(list(range(280, 486, 9)) + list(range(494, 631, 9)), 1081, 1)
T(494, 1095, "D13Epi_4.CG.bw", 9.6, fam=SANS, bold=False, color="#222")
T(494, 1134, "D13Fib_4.CG.bw", 9.6, fam=SANS, bold=False, color="#222")
T(494, 1174, "Epi ATACseq", 10, fam=SANS, bold=False, color="#2222EE")
T(494, 1202, "Fiber ATACseq", 10, fam=SANS, bold=False, color="#FF2222")
line(242, 1194, 631, 1194, .8, "#8a8af5"); line(242, 1223, 631, 1223, .8, "#ff9d9d")

fig.update_layout(width=W, height=H, autosize=False, margin=dict(l=0, r=0, t=0, b=0, autoexpand=False), paper_bgcolor="#fff", plot_bgcolor="rgba(0,0,0,0)",
                  barmode="group", bargap=0.115, bargroupgap=0.2, showlegend=False, annotations=ann, shapes=shp, **layout)
fig.write_html("out.html", config=dict(displayModeBar=False), post_script="document.body.style.margin='0';")
